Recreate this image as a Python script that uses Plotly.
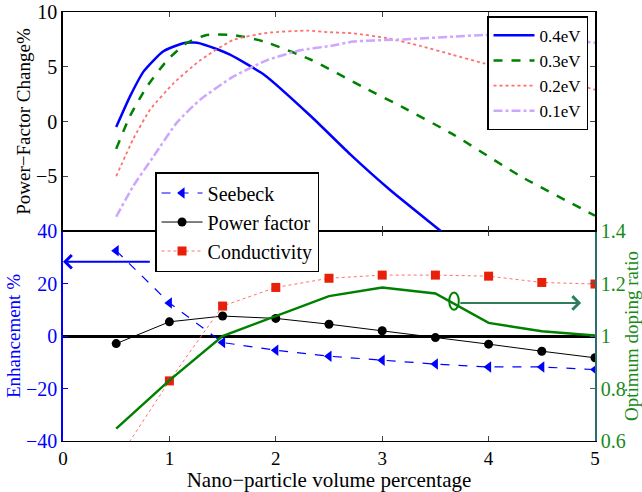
import plotly.graph_objects as go

# ---------------- data ----------------
# top panel: power-factor change (%) vs nano-particle volume percentage
x_04 = [0.5, 0.63, 0.76, 0.94, 1.13, 1.26, 1.45, 1.57, 1.89, 2.33, 2.70, 3.08, 3.55, 3.65]
y_04 = [-0.5, 2.3, 4.6, 6.4, 7.15, 7.2, 6.6, 6.1, 4.27, 0.48, -3.0, -6.3, -10.0, -10.8]
x_03 = [0.5, 0.63, 0.79, 0.98, 1.16, 1.35, 1.6, 1.89, 2.33, 2.83, 3.2, 3.67, 4.3, 5.0]
y_03 = [-2.5, 0.5, 3.2, 5.6, 7.15, 7.9, 7.9, 7.3, 5.64, 3.1, 1.27, -1.2, -5.0, -8.6]
x_02 = [0.5, 0.66, 0.82, 1.04, 1.29, 1.6, 1.92, 2.3, 2.51, 2.73, 3.05, 3.36, 3.66, 3.96, 4.5, 5.0]
y_02 = [-5.0, -1.6, 1.1, 3.5, 5.6, 7.45, 8.1, 8.3, 8.15, 8.05, 7.6, 6.9, 6.1, 5.3, 4.2, 2.9]
x_01 = [0.5, 0.66, 0.85, 1.07, 1.29, 1.6, 1.92, 2.23, 2.51, 2.73, 3.2, 3.67, 3.96, 4.4, 5.0]
y_01 = [-8.7, -5.9, -3.2, -0.1, 2.0, 4.1, 5.6, 6.5, 6.9, 7.3, 7.5, 7.75, 7.9, 7.8, 7.2]
top_names = ["0.4eV", "0.3eV", "0.2eV", "0.1eV"]

# bottom panel
vol = [0.5, 1.0, 1.5, 2.0, 2.5, 3.0, 3.5, 4.0, 4.5, 5.0]
seebeck = [32.5, 12.6, -2.5, -5.4, -7.7, -9.2, -10.7, -11.8, -11.8, -12.8]
power_factor = [-2.9, 5.4, 7.6, 6.7, 4.5, 2.0, -0.6, -3.1, -5.8, -8.3]
conductivity = [-48.0, -17.1, 11.4, 18.5, 22.0, 23.2, 23.2, 22.8, 20.4, 19.8]
doping_ratio = [0.647, 0.831, 1.0, 1.076, 1.152, 1.185, 1.162, 1.05, 1.018, 1.002]

x_ticks = [0, 1, 2, 3, 4, 5]
top_yticks = [-5, 0, 5, 10]
left_yticks = [-40, -20, 0, 20, 40]
right_yticks = [0.6, 0.8, 1.0, 1.2, 1.4]
right_ticktext = ["0.6", "0.8", "1", "1.2", "1.4"]

# ---------------- figure ----------------
FONT = "Liberation Serif"
BLUE = "#0000ff"
GREEN = "#008000"
RGREEN = "#1a8a1a"
fig = go.Figure()

top_styles = [
    dict(color=BLUE, width=2.5, dash="solid"),
    dict(color=GREEN, width=2.5, dash="dash"),
    dict(color="#ff6f6f", width=1.8, dash="dot"),
    dict(color="#cda6ff", width=2.5, dash="dashdot"),
]
for name, xs, ys, st in zip(top_names, [x_04, x_03, x_02, x_01], [y_04, y_03, y_02, y_01], top_styles):
    fig.add_trace(go.Scatter(x=xs, y=ys, mode="lines", name=name,
                             line=dict(shape="spline", smoothing=0.5, **st),
                             xaxis="x2", yaxis="y3", legend="legend"))

fig.add_trace(go.Scatter(x=vol, y=seebeck, mode="lines+markers", name="Seebeck",
                         line=dict(color=BLUE, width=1.2, dash="dash"),
                         marker=dict(symbol="triangle-left", size=10, color=BLUE),
                         xaxis="x", yaxis="y", legend="legend2"))
fig.add_trace(go.Scatter(x=vol, y=power_factor, mode="lines+markers", name="Power factor",
                         line=dict(color="black", width=1),
                         marker=dict(symbol="circle", size=9, color="black"),
                         xaxis="x", yaxis="y", legend="legend2"))
fig.add_trace(go.Scatter(x=vol, y=conductivity, mode="lines+markers", name="Conductivity",
                         line=dict(color="#ff7070", width=1, dash="dot"),
                         marker=dict(symbol="square", size=9, color="#e8200a"),
                         xaxis="x", yaxis="y", legend="legend2"))
fig.add_trace(go.Scatter(x=vol, y=doping_ratio, mode="lines", name="Optimum doping ratio",
                         line=dict(color=GREEN, width=2.5), showlegend=False,
                         xaxis="x", yaxis="y2"))

split = 0.4895
tickfont = dict(family=FONT, size=20)
fig.update_layout(
    width=642, height=492,
    margin=dict(l=63, r=47, t=12, b=51),
    paper_bgcolor="white", plot_bgcolor="white",
    font=dict(family=FONT, size=20, color="black"),
    xaxis=dict(domain=[0, 1], anchor="y", range=[0, 5], tickvals=x_ticks, ticks="inside", ticklen=5,
               showline=True, linecolor="black", linewidth=1, mirror="ticks", showgrid=False, zeroline=False,
               tickfont=dict(family=FONT, size=19), automargin=False,
               title=dict(text="Nano−particle volume percentage", font=dict(family=FONT, size=21), standoff=1)),
    yaxis=dict(domain=[0, split], anchor="x", range=[-40, 40], tickvals=left_yticks, ticks="inside", ticklen=5,
               color=BLUE, showline=True, linecolor=BLUE, linewidth=1.5, mirror="ticks", showgrid=False,
               zeroline=True, zerolinecolor="black", zerolinewidth=2.5, tickfont=tickfont, automargin=False,
               title=dict(text="Enhancement %", font=dict(family=FONT, size=19, color=BLUE), standoff=0)),
    yaxis2=dict(overlaying="y", anchor="x", side="right", range=[0.6, 1.4], tickvals=right_yticks,
                ticktext=right_ticktext, ticks="inside", ticklen=5, tickcolor="#2a6e6e",
                showline=True, linecolor="#2a6e6e", linewidth=1.5, showgrid=False, zeroline=False,
                tickfont=dict(family=FONT, size=20, color=RGREEN), automargin=False,
                title=dict(text="Optimum doping ratio", font=dict(family=FONT, size=19, color=RGREEN), standoff=4)),
    xaxis2=dict(domain=[0, 1], anchor="y3", range=[0, 5], tickvals=x_ticks, showticklabels=False,
                ticks="inside", ticklen=5, showline=True, linecolor="black", linewidth=1, mirror="ticks",
                showgrid=False, zeroline=False),
    yaxis3=dict(domain=[split, 1], anchor="x2", range=[-10, 10], tickvals=top_yticks, ticks="inside", ticklen=5,
                showline=True, linecolor="black", linewidth=1.5, mirror="ticks", showgrid=False, zeroline=False,
                tickfont=tickfont, automargin=False,
                title=dict(text="Power−Factor Change%", font=dict(family=FONT, size=19), standoff=0)),
    legend=dict(x=0.797, y=0.99, xanchor="left", yanchor="top", bgcolor="white", bordercolor="black",
                borderwidth=1.5, font=dict(family=FONT, size=17), tracegroupgap=0, itemwidth=41),
    legend2=dict(x=0.173, y=0.627, xanchor="left", yanchor="top", bgcolor="white", bordercolor="black",
                 borderwidth=1.5, font=dict(family=FONT, size=20), tracegroupgap=0, itemwidth=41),
    showlegend=True,
)

# arrows and ellipse annotations
fig.add_annotation(x=0, y=28.3, ax=0.83, ay=28.3, xref="x", yref="y", axref="x", ayref="y",
                   text="", showarrow=True, arrowhead=4, arrowsize=1.3, arrowwidth=2, arrowcolor=BLUE)
fig.add_annotation(x=4.87, y=12.6, ax=3.72, ay=12.6, xref="x", yref="y", axref="x", ayref="y",
                   text="", showarrow=True, arrowhead=4, arrowsize=1.3, arrowwidth=2, arrowcolor="#2e7d5b")
fig.add_shape(type="circle", xref="x", yref="y", x0=3.63, x1=3.72, y0=10.0, y1=16.6,
              line=dict(color=GREEN, width=2))

fig.write_html("out.html", config={"displayModeBar": False},
               post_script="document.body.style.margin='0';document.body.style.overflow='hidden';")
